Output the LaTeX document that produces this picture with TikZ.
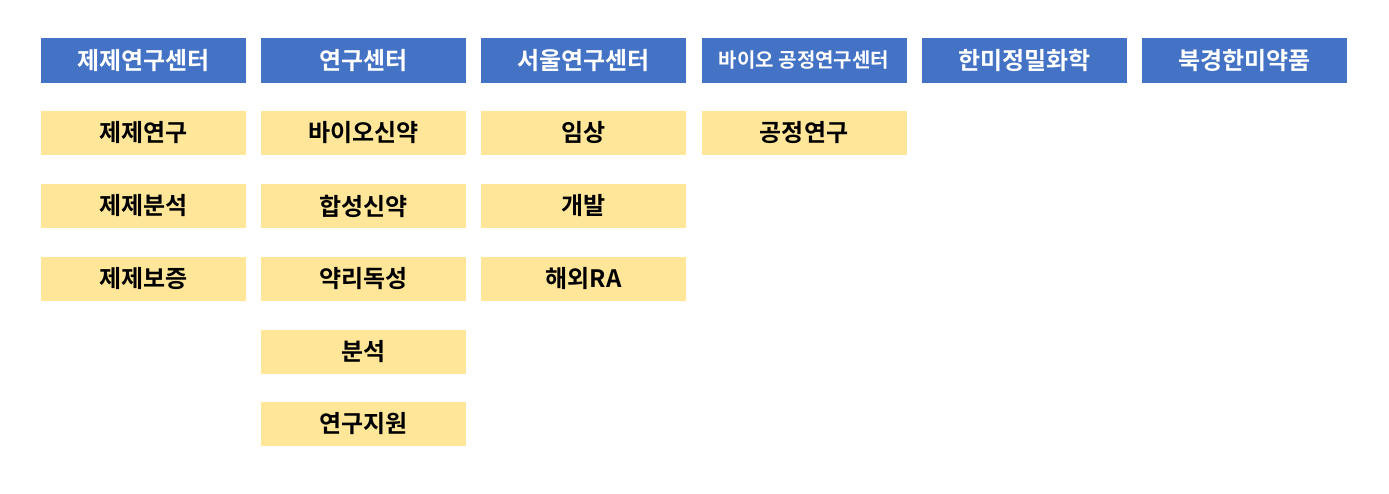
\documentclass[tikz,border=0pt]{standalone}
\usepackage{fontspec}
\newfontfamily\kr{Noto Sans CJK KR}[BoldFont={* Bold}]
\begin{document}
\begin{tikzpicture}[x=1pt,y=-1pt,
  hdr/.style={fill={rgb,255:red,68;green,114;blue,196},draw=none,minimum width=205pt,minimum height=45pt,inner sep=0pt,text=white,font=\kr\bfseries\fontsize{24}{26}\selectfont},
  sub/.style={fill={rgb,255:red,255;green,230;blue,153},draw=none,minimum width=205pt,minimum height=44pt,inner sep=0pt,text=black,font=\kr\bfseries\fontsize{24}{26}\selectfont}]
\useasboundingbox (0,0) rectangle (1389,494);
\fill[white] (0,0) rectangle (1389,494);
\node[hdr] (h1) at (143.5,60.5) {제제연구센터};
\node[hdr] (h2) at (363.5,60.5) {연구센터};
\node[hdr] (h3) at (583.5,60.5) {서울연구센터};
\node[hdr,font=\kr\bfseries\fontsize{20}{22}\selectfont] (h4) at (804,60.5) {바이오 공정연구센터};
\node[hdr] (h5) at (1024.5,60.5) {한미정밀화학};
\node[hdr] (h6) at (1244.5,60.5) {북경한미약품};
\node[sub] (a1) at (143.5,133) {제제연구};
\node[sub] (a2) at (143.5,206) {제제분석};
\node[sub] (a3) at (143.5,279) {제제보증};
\node[sub] (b1) at (363.5,133) {바이오신약};
\node[sub] (b2) at (363.5,206) {합성신약};
\node[sub] (b3) at (363.5,279) {약리독성};
\node[sub] (b4) at (363.5,351.5) {분석};
\node[sub] (b5) at (363.5,424) {연구지원};
\node[sub] (c1) at (583.5,133) {임상};
\node[sub] (c2) at (583.5,206) {개발};
\node[sub] (c3) at (583.5,279) {해외RA};
\node[sub] (d1) at (804,133) {공정연구};
\end{tikzpicture}
\end{document}
